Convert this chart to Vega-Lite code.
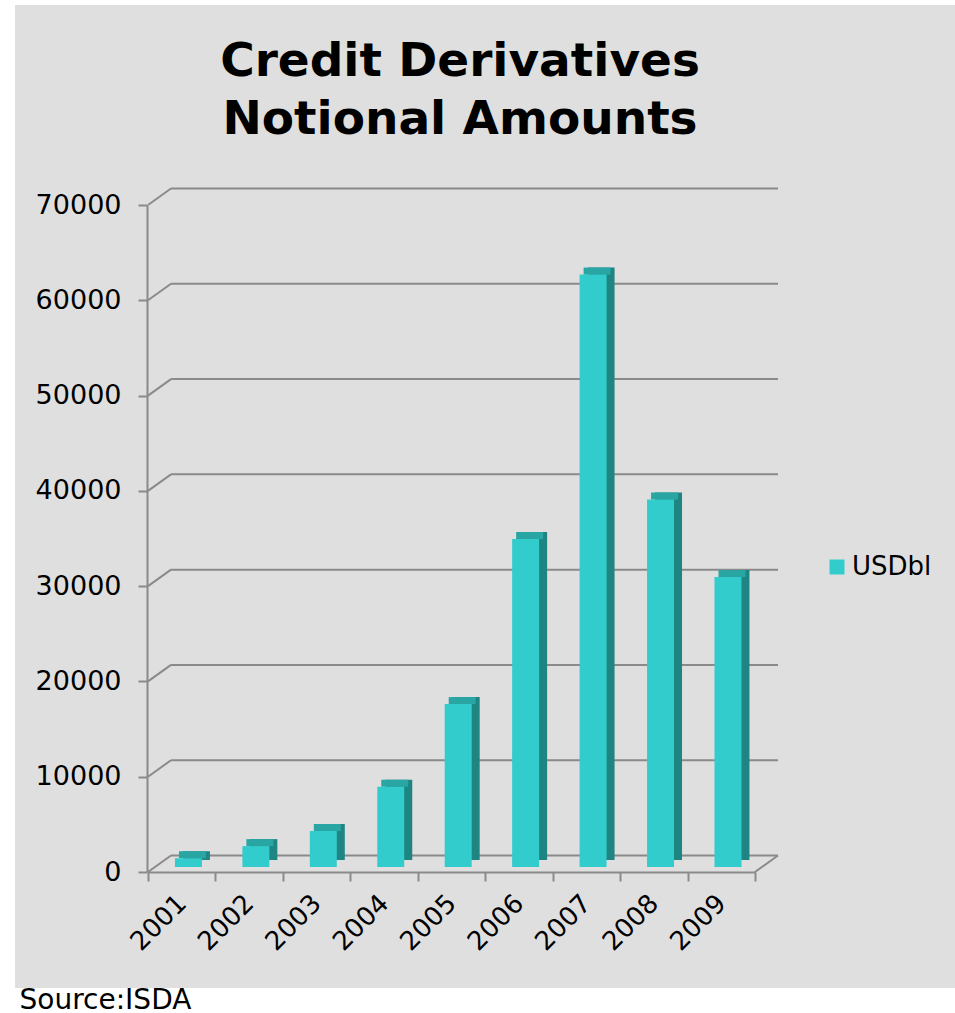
{
  "$schema": "https://vega.github.io/schema/vega-lite/v6.json",
  "width": 940,
  "height": 983,
  "autosize": {"type": "none"},
  "padding": {"left": 15, "top": 5, "right": 0, "bottom": 25},
  "background": "white",
  "config": {
    "view": {"fill": "#dfdfdf", "stroke": null},
    "font": "DejaVu Sans",
    "axisX": {
      "offset": -116, "tickBand": "extent", "tickSize": 9, "tickWidth": 2, "tickColor": "#8a8a8a",
      "domainColor": "#8a8a8a", "domainWidth": 2, "labelAngle": -45, "labelFontSize": 26, "labelColor": "black",
      "labelFont": "DejaVu Sans", "labelPadding": 18, "labelAlign": "right", "labelBaseline": "middle", "grid": false,
      "titleX": 4, "titleY": 136, "titleAlign": "left", "titleAngle": 0, "titleAnchor": "start",
      "titleBaseline": "alphabetic", "titleFontSize": 28, "titleFontWeight": "normal", "titleColor": "black", "titleFont": "DejaVu Sans"
    },
    "axisY": {
      "offset": -132, "tickSize": 9, "tickWidth": 2, "tickColor": "#8a8a8a",
      "domainColor": "#8a8a8a", "domainWidth": 2, "labelFontSize": 27, "labelColor": "black", "labelFont": "DejaVu Sans",
      "labelPadding": 17, "grid": false
    }
  },
  "title": {
    "text": ["Credit Derivatives", "Notional Amounts"],
    "fontSize": 47, "fontWeight": "bold", "font": "DejaVu Sans", "color": "black",
    "anchor": "middle", "frame": "group", "dx": -25, "offset": -139, "baseline": "top", "lineHeight": 58
  },
  "datasets": {
    "cd": [
      {"year": "2001", "value": 918.87},
      {"year": "2002", "value": 2191.57},
      {"year": "2003", "value": 3779.40},
      {"year": "2004", "value": 8422.26},
      {"year": "2005", "value": 17096.14},
      {"year": "2006", "value": 34422.80},
      {"year": "2007", "value": 62173.20},
      {"year": "2008", "value": 38563.82},
      {"year": "2009", "value": 30428.07}
    ],
    "grid": [
      {"g": 0}, {"g": 10000}, {"g": 20000}, {"g": 30000}, {"g": 40000}, {"g": 50000}, {"g": 60000}, {"g": 70000}
    ]
  },
  "layer": [
    {
      "data": {"name": "cd"},
      "mark": {"type": "bar", "width": {"band": 0.4}, "xOffset": 6.7, "yOffset": -5, "y2Offset": -5, "opacity": 0},
      "encoding": {
        "x": {
          "field": "year", "type": "ordinal",
          "scale": {"domain": ["2001","2002","2003","2004","2005","2006","2007","2008","2009"], "range": [133, 740], "paddingInner": 0, "paddingOuter": 0},
          "axis": {"title": "Source:ISDA"}
        },
        "y": {
          "field": "value", "type": "quantitative",
          "scale": {"domain": [0, 70000], "range": [867, 200], "nice": false, "zero": true},
          "axis": {"title": null, "values": [0, 10000, 20000, 30000, 40000, 50000, 60000, 70000], "format": "d"}
        }
      }
    },
    {
      "data": {"name": "grid"},
      "mark": {"type": "rule", "color": "#8a8a8a", "strokeWidth": 2, "xOffset": 23, "x2Offset": 23, "yOffset": -16.5},
      "encoding": {
        "x": {"datum": "2001", "type": "ordinal", "bandPosition": 0},
        "x2": {"datum": "2009", "bandPosition": 1},
        "y": {"field": "g", "type": "quantitative"}
      }
    },
    {
      "data": {"name": "grid"},
      "mark": {"type": "rule", "color": "#8a8a8a", "strokeWidth": 2, "x2Offset": 23, "y2Offset": -16.5},
      "encoding": {
        "x": {"datum": "2001", "type": "ordinal", "bandPosition": 0},
        "x2": {"datum": "2001", "bandPosition": 0},
        "y": {"field": "g", "type": "quantitative"},
        "y2": {"field": "g"}
      }
    },
    {
      "data": {"name": "grid"},
      "transform": [{"filter": "datum.g == 0"}],
      "mark": {"type": "rule", "color": "#8a8a8a", "strokeWidth": 2, "x2Offset": 23, "y2Offset": -16.5},
      "encoding": {
        "x": {"datum": "2009", "type": "ordinal", "bandPosition": 1},
        "x2": {"datum": "2009", "bandPosition": 1},
        "y": {"field": "g", "type": "quantitative"},
        "y2": {"field": "g"}
      }
    },
    {
      "data": {"name": "cd"},
      "mark": {"type": "bar", "color": "#1e8582", "width": {"band": 0.4}, "xOffset": 14.7, "yOffset": -12, "y2Offset": -12},
      "encoding": {
        "x": {"field": "year", "type": "ordinal"},
        "y": {"field": "value", "type": "quantitative"}
      }
    },
    {
      "data": {"name": "cd"},
      "mark": {"type": "bar", "color": "#29a6a4", "width": {"band": 0.4}, "xOffset": 10.7, "yOffset": -12, "y2Offset": -5},
      "encoding": {
        "x": {"field": "year", "type": "ordinal"},
        "y": {"field": "value", "type": "quantitative"},
        "y2": {"field": "value"}
      }
    },
    {
      "data": {"name": "cd"},
      "mark": {"type": "bar", "width": {"band": 0.4}, "xOffset": 6.7, "yOffset": -5, "y2Offset": -5},
      "encoding": {
        "x": {"field": "year", "type": "ordinal"},
        "y": {"field": "value", "type": "quantitative"},
        "color": {
          "datum": "USDbl", "type": "nominal",
          "scale": {"range": ["#33cccc"]},
          "legend": {
            "orient": "none", "legendX": 809, "legendY": 549, "title": null, "symbolType": "square",
            "symbolSize": 225, "symbolStrokeWidth": 0, "labelFontSize": 26, "labelColor": "black",
            "labelFont": "DejaVu Sans", "labelOffset": 2
          }
        }
      }
    }
  ]
}
